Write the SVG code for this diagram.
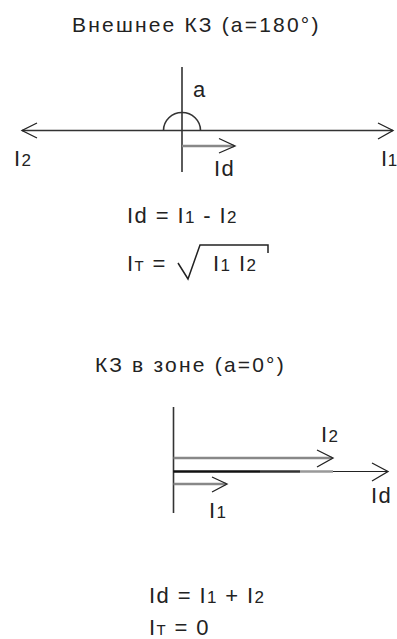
<svg xmlns="http://www.w3.org/2000/svg" width="397" height="639" viewBox="0 0 397 639">
<style>
.t{font-family:"Liberation Sans",Arial,sans-serif;fill:#222;}
.title{font-size:21px;letter-spacing:2.2px;}
.f{font-size:22px;letter-spacing:1.4px;}
.s{font-size:17px;}
.sc{font-size:15px;}
.ax{stroke:#333;stroke-width:1.6;fill:none;}
.vec{stroke:#888;stroke-width:2.6;fill:none;}
.head{stroke:#222;stroke-width:1.3;fill:none;}
</style>
<rect width="397" height="639" fill="#fff"/>

<g id="top-diagram">
  <text id="title1" class="t title" x="72" y="32">Внешнее КЗ (a=180°)</text>
  <g id="connectors-top">
    <line class="ax" x1="182" y1="67" x2="182" y2="172"/>
    <line class="ax" x1="22" y1="130.5" x2="393" y2="130.5"/>
    <polyline class="head" points="37,123 22,130.5 37,138"/>
    <polyline class="head" points="378,123 393,130.5 378,139"/>
    <path class="ax" d="M163.5,130.5 A18.5,18 0 0 1 200.5,130.5"/>
    <line class="vec" x1="182" y1="146" x2="234" y2="146"/>
    <polyline class="head" points="219,138.5 235,146 219,153"/>
  </g>
  <text class="t f" x="193" y="97">a</text>
  <text class="t f" x="14" y="166">I<tspan class="s">2</tspan></text>
  <text class="t f" x="381" y="166" style="letter-spacing:0.6px">I<tspan class="s">1</tspan></text>
  <text class="t f" x="214" y="176">Id</text>
</g>

<g id="top-formulas">
  <text class="t f" x="127" y="223">Id = I<tspan class="s">1</tspan> - I<tspan class="s">2</tspan></text>
  <text class="t f" x="127" y="271">I<tspan class="sc">T</tspan> =</text>
  <polyline class="head" points="178,263 188,279 200,245 268,245 268,253" style="stroke-width:1.5"/>
  <text class="t f" x="213" y="271">I<tspan class="s">1</tspan> I<tspan class="s">2</tspan></text>
</g>

<g id="bottom-diagram">
  <text id="title2" class="t title" x="95" y="372">КЗ в зоне (a=0°)</text>
  <g id="connectors-bottom">
    <line class="ax" x1="173.5" y1="407" x2="173.5" y2="513"/>
    <line class="vec" x1="173.5" y1="458" x2="332" y2="458"/>
    <polyline class="head" points="317,450 333,458 317,467"/>
    <line stroke="#222" stroke-width="1.2" x1="173.5" y1="471.5" x2="387" y2="471.5"/>
    <line stroke="#999" stroke-width="2.6" x1="300" y1="471.5" x2="333" y2="471.5"/>
    <line stroke="#333" stroke-width="2.6" x1="260" y1="471.5" x2="300" y2="471.5"/>
    <line stroke="#111" stroke-width="2.6" x1="173.5" y1="471.5" x2="260" y2="471.5"/>
    <polyline class="head" points="372,463 388,471.5 372,481"/>
    <line class="vec" x1="173.5" y1="484" x2="226" y2="484"/>
    <polyline class="head" points="212,477 227,484 212,492"/>
  </g>
  <text class="t f" x="321" y="442">I<tspan class="s">2</tspan></text>
  <text class="t f" x="371" y="503">Id</text>
  <text class="t f" x="209" y="518">I<tspan class="s">1</tspan></text>
</g>

<g id="bottom-formulas">
  <text class="t f" x="149" y="603">Id = I<tspan class="s">1</tspan> + I<tspan class="s">2</tspan></text>
  <text class="t f" x="149" y="635">I<tspan class="sc">T</tspan> = 0</text>
</g>
</svg>
